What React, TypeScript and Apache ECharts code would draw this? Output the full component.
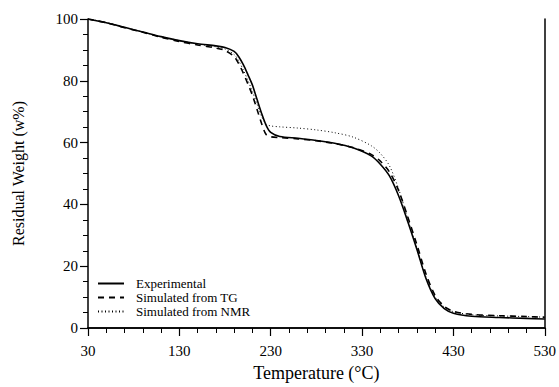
import React, { useEffect, useRef } from "react";
import * as echarts from "echarts";

const temperature = [30, 50, 70, 90, 110, 130, 150, 170, 180, 190, 195, 200, 205, 210, 215, 220, 225, 230, 240, 260, 280, 300, 320, 340, 350, 360, 370, 380, 390, 400, 410, 420, 430, 450, 480, 510, 530];
const experimental = [100, 98.8, 97.3, 95.8, 94.3, 93.0, 92.0, 91.3, 90.8, 89.5, 87.8, 85.2, 82.0, 78.6, 74.0, 69.5, 65.6, 63.3, 62.0, 61.4, 60.7, 59.8, 58.3, 55.7, 53.0, 49.2, 42.8, 34.5, 25.5, 16.0, 9.5, 6.3, 4.8, 3.8, 3.4, 3.1, 2.9];
const simulatedTG = [100, 98.8, 97.2, 95.7, 94.1, 92.7, 91.6, 90.6, 89.8, 87.8, 85.5, 82.5, 79.0, 75.3, 70.8, 66.2, 62.6, 61.9, 61.6, 61.2, 60.6, 59.7, 58.4, 56.2, 54.0, 50.5, 44.5, 36.0, 27.0, 17.5, 10.5, 7.0, 5.4, 4.4, 4.0, 3.7, 3.5];
const simulatedNMR = [100, 98.9, 97.3, 95.8, 94.3, 93.0, 91.9, 91.0, 90.3, 88.5, 86.5, 83.5, 80.2, 76.5, 72.5, 68.5, 66.0, 65.4, 65.1, 64.7, 64.1, 63.2, 61.8, 59.0, 56.5, 52.5, 45.0, 35.5, 25.8, 16.5, 10.0, 6.8, 5.3, 4.3, 3.9, 3.7, 3.5];
const seriesNames = ["Experimental", "Simulated from TG", "Simulated from NMR"];

const FONT = "'Liberation Serif', 'Times New Roman', Times, serif";

export default function App() {
  const ref = useRef<HTMLDivElement>(null);
  useEffect(() => {
    if (!ref.current) return;
    const chart = echarts.init(ref.current, null, { renderer: "svg" });
    const pair = (ys: number[]) => temperature.map((t, i) => [t, ys[i]]);
    const axisCommon = {
      axisLine: { show: true, lineStyle: { color: "#000", width: 1.5 } },
      splitLine: { show: false },
      axisLabel: { color: "#000", fontFamily: FONT, fontSize: 15 },
    };
    chart.setOption({
      animation: false,
      backgroundColor: "#fff",
      textStyle: { fontFamily: FONT },
      grid: { left: 88, right: 13, top: 19, bottom: 53, containLabel: false, show: false },
      legend: {
        orient: "vertical",
        left: 97,
        top: 277,
        padding: 0,
        itemWidth: 26,
        itemHeight: 14,
        itemGap: 1,
        data: seriesNames,
        itemStyle: { color: "rgba(0,0,0,0)", borderWidth: 0, opacity: 0 },
        textStyle: { color: "#000", fontFamily: FONT, fontSize: 13, padding: [0, 0, 0, 7] },
      },
      xAxis: [
        {
          ...axisCommon,
          type: "value",
          min: 30,
          max: 530,
          interval: 100,
          name: "Temperature (°C)",
          nameLocation: "middle",
          nameGap: 36,
          nameTextStyle: { color: "#000", fontFamily: FONT, fontSize: 18 },
          axisTick: { show: true, inside: false, length: 8, lineStyle: { color: "#000", width: 1.2 } },
          minorTick: { show: true, splitNumber: 5, length: 5, lineStyle: { color: "#000", width: 1 } },
          axisLabel: { ...axisCommon.axisLabel, margin: 15 },
        },
        {
          type: "value",
          position: "top",
          min: 30,
          max: 530,
          axisLine: { show: true, lineStyle: { color: "#000", width: 1.5 } },
          axisTick: { show: false },
          axisLabel: { show: false },
          splitLine: { show: false },
        },
      ],
      yAxis: [
        {
          ...axisCommon,
          type: "value",
          min: 0,
          max: 100,
          interval: 20,
          name: "Residual Weight (w%)",
          nameLocation: "middle",
          nameGap: 62,
          nameTextStyle: { color: "#000", fontFamily: FONT, fontSize: 16 },
          axisTick: { show: true, inside: false, length: 8, lineStyle: { color: "#000", width: 1.2 } },
          minorTick: { show: true, splitNumber: 4, length: 5, lineStyle: { color: "#000", width: 1 } },
          axisLabel: { ...axisCommon.axisLabel, margin: 10 },
        },
        {
          type: "value",
          position: "right",
          min: 0,
          max: 100,
          axisLine: { show: true, lineStyle: { color: "#000", width: 1.5 } },
          axisTick: { show: false },
          axisLabel: { show: false },
          splitLine: { show: false },
        },
      ],
      series: [
        {
          name: seriesNames[0],
          type: "line",
          data: pair(experimental),
          smooth: 0.3,
          symbol: "none",
          lineStyle: { color: "#000", width: 1.6, type: "solid" },
          itemStyle: { color: "#000" },
        },
        {
          name: seriesNames[1],
          type: "line",
          data: pair(simulatedTG),
          smooth: 0.3,
          symbol: "none",
          lineStyle: { color: "#000", width: 1.6, type: [6, 5] },
          itemStyle: { color: "#000" },
        },
        {
          name: seriesNames[2],
          type: "line",
          data: pair(simulatedNMR),
          smooth: 0.3,
          symbol: "none",
          lineStyle: { color: "#000", width: 1, type: [1, 2.5] },
          itemStyle: { color: "#000" },
        },
      ],
    });
    return () => chart.dispose();
  }, []);
  return <div ref={ref} style={{ width: 559, height: 387, position: "absolute", left: 0, top: 0 }} />;
}
